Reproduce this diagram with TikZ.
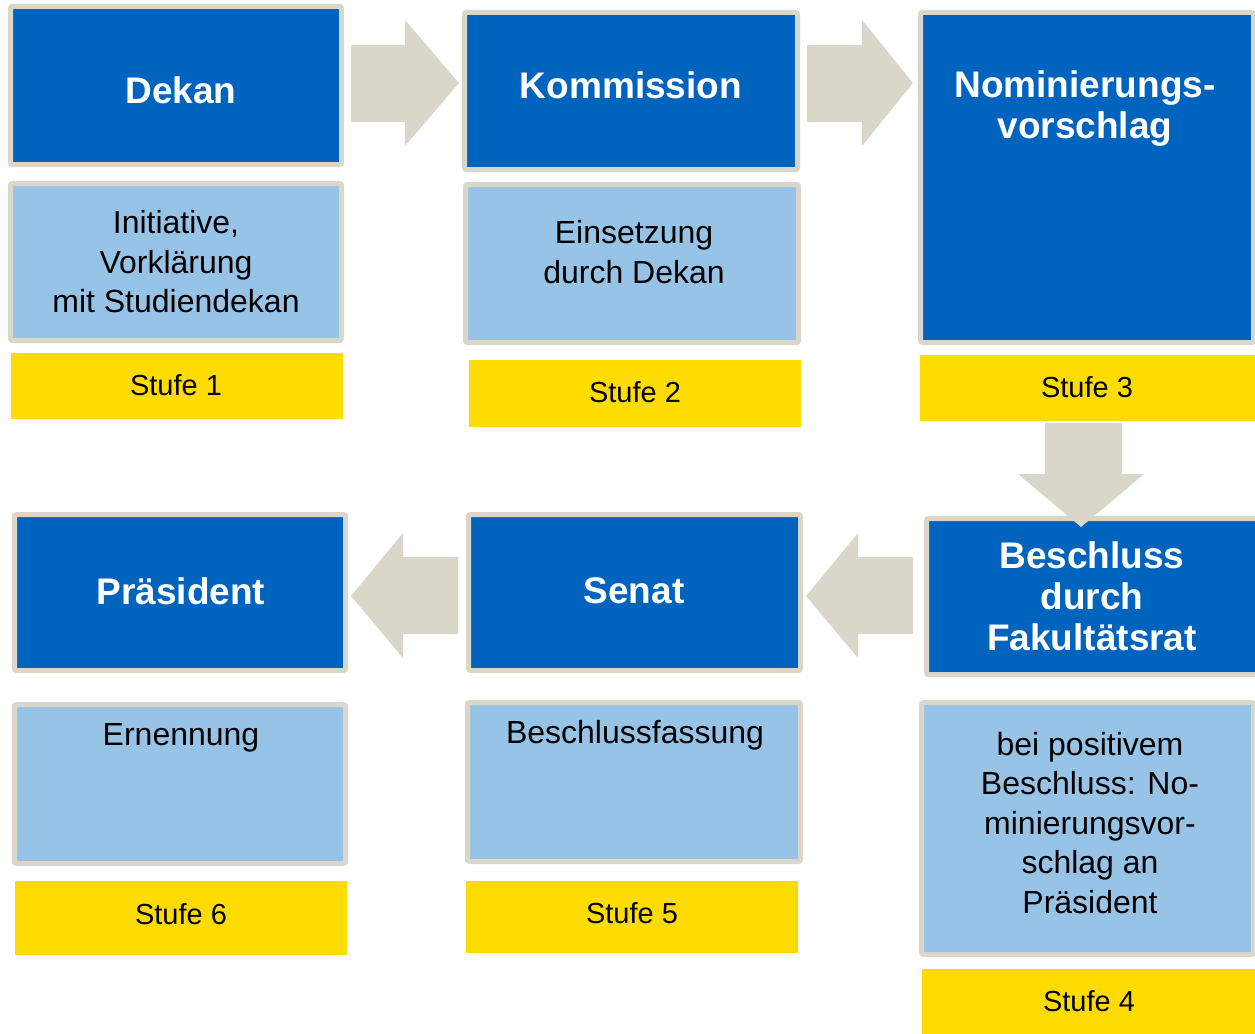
\documentclass[tikz,border=0pt]{standalone}
\usepackage{fontspec}
\setmainfont{Liberation Sans}
\usetikzlibrary{fit}
\definecolor{dkblue}{RGB}{0,100,190}
\definecolor{ltblue}{RGB}{150,195,230}
\definecolor{framec}{RGB}{218,214,202}
\definecolor{yel}{RGB}{255,220,0}
\definecolor{arrowc}{RGB}{218,214,202}
\tikzset{
  fbox/.style={draw=framec, line width=5pt, rounded corners=2pt, inner sep=-2.5pt},
  darkbox/.style={fbox, fill=dkblue},
  lightbox/.style={fbox, fill=ltblue},
  stufebox/.style={fill=yel, draw=none, inner sep=0pt},
  title/.style={text=white, font=\bfseries\fontsize{37}{41}\selectfont, align=center, inner sep=0pt},
  body/.style={text=black, font=\fontsize{32}{39.5}\selectfont, align=center, inner sep=0pt},
  stufe/.style={text=black, font=\fontsize{29}{34}\selectfont, inner sep=0pt},
  blockarrow/.style={fill=arrowc, draw=none}
}
\begin{document}
\begin{tikzpicture}[x=1pt,y=-1pt]
\useasboundingbox (0,0) rectangle (1255,1033);
% row 1 boxes
\node[darkbox, fit={(8,4) (344,167)}] (dekan) {};
\node[lightbox, fit={(8,181) (344,343)}] (init) {};
\node[stufebox, fit={(11,353) (343,419)}] (s1) {};
\node[darkbox, fit={(462,10) (800,172)}] (komm) {};
\node[lightbox, fit={(463,182) (801,345)}] (eins) {};
\node[stufebox, fit={(469,360) (801,427)}] (s2) {};
\node[darkbox, fit={(918,10) (1256,345)}] (nom) {};
\node[stufebox, fit={(920,355) (1255,421)}] (s3) {};
% row 2 boxes
\node[darkbox, fit={(12,512) (348,673)}] (pras) {};
\node[lightbox, fit={(12,702) (348,866)}] (ern) {};
\node[stufebox, fit={(15,881) (347,955)}] (s6) {};
\node[darkbox, fit={(466,512) (803,673)}] (senat) {};
\node[lightbox, fit={(465,700) (803,864)}] (bfas) {};
\node[stufebox, fit={(466,881) (798,953)}] (s5) {};
\node[darkbox, fit={(924,516) (1260,677)}] (besch) {};
\node[lightbox, fit={(919,700) (1256,957)}] (bpos) {};
\node[stufebox, fit={(922,969) (1255,1035)}] (s4) {};
% block arrows
\fill[blockarrow] (351,45) -- (405,45) -- (405,20) -- (459,83) -- (405,146) -- (405,122) -- (351,122) -- cycle;
\fill[blockarrow] (807,45) -- (862,45) -- (862,20) -- (913,83) -- (862,146) -- (862,122) -- (807,122) -- cycle;
\fill[blockarrow] (1045,423) -- (1122,423) -- (1122,474) -- (1144,474) -- (1081,527) -- (1018,474) -- (1045,474) -- cycle;
\fill[blockarrow] (458,557) -- (403,557) -- (403,533) -- (351,596) -- (403,658) -- (403,634) -- (458,634) -- cycle;
\fill[blockarrow] (913,557) -- (858,557) -- (858,533) -- (806,596) -- (858,658) -- (858,634) -- (913,634) -- cycle;
% titles
\node[title] (tdekan) at (181,90) {Dekan};
\node[title] (tkomm) at (631,85) {Kommission};
\node[title] (tnom) at (1085,109) {Nominierungs-\\vorschlag};
\node[title] (tpras) at (181,591) {Präsident};
\node[title] (tsenat) at (634,591) {Senat};
\node[title] (tbesch) at (1092,596) {Beschluss\\durch\\Fakultätsrat};
% body texts
\node[body] (tinit) at (176,262) {Initiative,\\Vorklärung\\mit Studiendekan};
\node[body] (teins) at (634,252) {Einsetzung\\durch Dekan};
\node[body] (tern) at (181,738) {Ernennung};
\node[body] (tbfas) at (635,735) {Beschlussfassung};
\node[body] (tbpos) at (1090,823) {bei positivem\\Beschluss: No-\\minierungsvor-\\schlag an\\Präsident};
% stufe labels
\node[stufe] (ts1) at (176,385) {Stufe 1};
\node[stufe] (ts2) at (635,392) {Stufe 2};
\node[stufe] (ts3) at (1087,387) {Stufe 3};
\node[stufe] (ts4) at (1089,1001) {Stufe 4};
\node[stufe] (ts5) at (632,913) {Stufe 5};
\node[stufe] (ts6) at (181,914) {Stufe 6};
\end{tikzpicture}
\end{document}
